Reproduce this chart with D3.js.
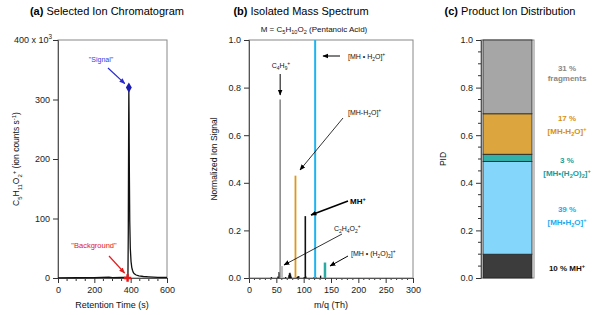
<!DOCTYPE html>
<html>
<head>
<meta charset="utf-8">
<script src="https://cdn.jsdelivr.net/npm/d3@7"></script>
<style>
  body { margin: 0; background: #fff; }
  svg { font-family: "Liberation Sans", Arial, sans-serif; }
</style>
</head>
<body>
<svg id="chart" width="600" height="315"></svg>
<script>
// ---- (a) chromatogram data ----
const chromTime = [0, 100, 200, 280, 300, 350, 380, 385, 387, 389, 390, 391, 393, 395, 398, 402, 406, 410, 415, 420, 430, 445, 470, 500, 550, 600];
const chromSignal = [0.3, 0.4, 0.5, 1.5, 0.6, 0.8, 1, 3, 80, 260, 320, 280, 170, 95, 50, 28, 18, 13, 9, 7, 5, 3.5, 2.5, 2, 1.2, 1];
const signalPoint = [390, 320];
const backgroundPoint = [383, 0];

// ---- (b) mass spectrum data ----
const peakMz = [57, 60, 85, 103, 121, 139];
const peakHeight = [0.75, 0.05, 0.43, 0.26, 1.0, 0.065];
const peakGroup = ['fragment', 'fragment2', 'dehydrated', 'mh', 'hydrate', 'dihydrate'];
const minorMz = [41, 53, 55, 56, 58, 67, 73, 74, 75, 76, 77, 86, 89, 91, 101, 104, 119, 122, 131];
const minorHeight = [0.004, 0.006, 0.025, 0.02, 0.008, 0.004, 0.012, 0.02, 0.022, 0.015, 0.006, 0.004, 0.006, 0.008, 0.004, 0.006, 0.003, 0.004, 0.01];

// ---- (c) product ion distribution ----
const pidIons = ['MH+', 'MH•H2O+', 'MH•(H2O)2+', 'MH-H2O+', 'fragments'];
const pidValues = [0.10, 0.39, 0.03, 0.17, 0.31];

const colors = {
  fragment: '#8c8c8c', fragment2: '#bdbdbd', dehydrated: '#e0961a', mh: '#111',
  hydrate: '#1eb4f0', dihydrate: '#2aaaa0'
};
const pidFill = ['#3c3c3c', '#84d6fa', '#33b2aa', '#dca53e', '#a6a6a6'];

const svg = d3.select('#chart');
const top0 = 40, bottom0 = 278;

// arrow markers
const defs = svg.append('defs');
function marker(id, color, size) {
  defs.append('marker').attr('id', id).attr('viewBox', '0 0 10 10')
    .attr('refX', 9).attr('refY', 5).attr('markerWidth', size).attr('markerHeight', size)
    .attr('orient', 'auto-start-reverse').attr('markerUnits', 'userSpaceOnUse')
    .append('path').attr('d', 'M0,1 L10,5 L0,9 z').attr('fill', color);
}
marker('arrBlack', '#000', 6);
marker('arrBlue', '#2a2ad0', 6);
marker('arrRed', '#e02020', 6);

// simple rich text: _{..} subscript, ^{..} superscript
function rich(sel, str, size) {
  const re = /([_^])\{([^}]*)\}|([^_^]+)/g;
  let m, shift = 0;
  while ((m = re.exec(str)) !== null) {
    if (m[3]) {
      sel.append('tspan').attr('dy', -shift).text(m[3]);
      shift = 0;
    } else {
      const s = m[1] === '_' ? size * 0.3 : -size * 0.4;
      sel.append('tspan').attr('dy', s - shift).style('font-size', (size * 0.7) + 'px').text(m[2]);
      shift = s;
    }
  }
  return sel;
}
function label(x, y, str, size, color, anchor, weight, rotate) {
  const t = svg.append('text').attr('x', x).attr('y', y)
    .attr('text-anchor', anchor || 'middle')
    .style('font-size', size + 'px').attr('fill', color || '#000')
    .style('font-weight', weight || 'normal');
  if (rotate) t.attr('transform', `rotate(-90,${x},${y})`);
  return rich(t, str, size);
}
function arrow(x1, y1, x2, y2, color, mk, w) {
  svg.append('line').attr('x1', x1).attr('y1', y1).attr('x2', x2).attr('y2', y2)
    .attr('stroke', color).attr('stroke-width', w || 1).attr('marker-end', `url(#${mk})`);
}
function title(x, y, tag, text) {
  const t = svg.append('text').attr('x', x).attr('y', y).attr('text-anchor', 'middle')
    .style('font-size', '11px');
  t.append('tspan').style('font-weight', 'bold').text(tag + ' ');
  t.append('tspan').text(text);
}
function styleAxis(g) {
  g.selectAll('.domain').attr('stroke', '#555');
  g.selectAll('.tick line').attr('stroke', '#333');
  g.selectAll('.tick text').style('font-size', '9px').attr('fill', '#222')
    .style('font-family', '"Liberation Sans", Arial, sans-serif');
}
function minorTicks(scale, values, orient, pos, len) {
  const g = svg.append('g');
  values.forEach(v => {
    if (orient === 'bottom') g.append('line').attr('x1', scale(v)).attr('x2', scale(v))
      .attr('y1', pos).attr('y2', pos + len).attr('stroke', '#333');
    else g.append('line').attr('y1', scale(v)).attr('y2', scale(v))
      .attr('x1', pos).attr('x2', pos - len).attr('stroke', '#333');
  });
}

// ================= (a) =================
{
  const x = d3.scaleLinear().domain([0, 600]).range([58, 167]);
  const y = d3.scaleLinear().domain([0, 400]).range([bottom0, top0]);
  svg.append('rect').attr('x', 58).attr('y', top0).attr('width', 109).attr('height', bottom0 - top0)
    .attr('fill', 'none').attr('stroke', '#888');
  minorTicks(x, d3.range(50, 600, 50).filter(v => v % 200), 'bottom', bottom0, 3);
  const xa = svg.append('g').attr('transform', `translate(0,${bottom0})`)
    .call(d3.axisBottom(x).tickValues([0, 200, 400, 600]).tickSize(5).tickPadding(4));
  styleAxis(xa);
  const ya = svg.append('g').attr('transform', 'translate(58,0)')
    .call(d3.axisLeft(y).tickValues([0, 100, 200, 300, 400]).tickSize(5).tickPadding(3));
  styleAxis(ya);
  // top tick carries the exponent
  ya.selectAll('.tick text').filter(d => d === 400).remove();
  label(52, y(400) + 3, '400 x 10^{3}', 9, '#222', 'end');

  const line = d3.line().x((d, i) => x(chromTime[i])).y(d => y(d));
  svg.append('path').datum(chromSignal).attr('d', line).attr('fill', 'none')
    .attr('stroke', '#111').attr('stroke-width', 1.3);

  svg.append('path').attr('d', d3.symbol(d3.symbolDiamond, 30)())
    .attr('transform', `translate(${x(signalPoint[0])},${y(signalPoint[1])})`).attr('fill', '#1c1cb0');
  svg.append('path').attr('d', d3.symbol(d3.symbolCross, 30)())
    .attr('transform', `translate(${x(backgroundPoint[0])},${y(backgroundPoint[1])})`).attr('fill', '#e81818');

  label(101, 62, '"Signal"', 7, '#3a3ae0');
  arrow(108, 68, x(signalPoint[0]) - 4, y(signalPoint[1]) - 4, '#2a2ad0', 'arrBlue', 1.2);
  label(94, 248, '"Background"', 7.5, '#e02020');
  arrow(109, 256, x(backgroundPoint[0]) - 3, y(backgroundPoint[1]) - 5, '#e02020', 'arrRed', 1.2);

  title(107, 15, '(a)', 'Selected Ion Chromatogram');
  label(112, 308, 'Retention Time (s)', 9, '#111');
  label(19, 159, 'C_{5}H_{11}O_{2}^{+} (ion counts s^{-1})', 8.5, '#111', 'middle', 'normal', true);
}

// ================= (b) =================
{
  const x = d3.scaleLinear().domain([0, 300]).range([249, 413]);
  const y = d3.scaleLinear().domain([0, 1]).range([bottom0, top0]);
  svg.append('rect').attr('x', 249).attr('y', top0).attr('width', 164).attr('height', bottom0 - top0)
    .attr('fill', 'none').attr('stroke', '#888');
  minorTicks(x, d3.range(10, 300, 10).filter(v => v % 50), 'bottom', bottom0, 2);
  const xa = svg.append('g').attr('transform', `translate(0,${bottom0})`)
    .call(d3.axisBottom(x).tickValues(d3.range(0, 301, 50)).tickSize(5).tickPadding(4));
  styleAxis(xa);
  const ya = svg.append('g').attr('transform', 'translate(249,0)')
    .call(d3.axisLeft(y).tickValues(d3.range(0, 1.01, 0.2)).tickFormat(d3.format('.1f')).tickSize(5).tickPadding(3));
  styleAxis(ya);

  svg.append('g').selectAll('line').data(minorMz).join('line')
    .attr('x1', d => x(d)).attr('x2', d => x(d))
    .attr('y1', y(0)).attr('y2', (d, i) => y(minorHeight[i]))
    .attr('stroke', '#111').attr('stroke-width', 1.3);
  const widths = { fragment: 1.6, fragment2: 2.5, dehydrated: 1.8, mh: 1.6, hydrate: 2, dihydrate: 2.5 };
  svg.append('g').selectAll('line').data(peakMz).join('line')
    .attr('x1', d => x(d)).attr('x2', d => x(d))
    .attr('y1', y(0)).attr('y2', (d, i) => y(peakHeight[i]))
    .attr('stroke', (d, i) => colors[peakGroup[i]])
    .attr('stroke-width', (d, i) => widths[peakGroup[i]]);

  label(281, 68, 'C_{4}H_{9}^{+}', 7, '#111');
  arrow(x(57), 74, x(57), 95, '#000', 'arrBlack', 1);
  label(348, 59, '[MH • H_{2}O]^{+}', 7, '#111', 'start');
  arrow(340, 56, 323, 56, '#000', 'arrBlack', 1);
  label(348, 115, '[MH-H_{2}O]^{+}', 7, '#111', 'start');
  arrow(343, 118, 300, 170, '#000', 'arrBlack', 0.8);
  label(350, 204, 'MH^{+}', 8, '#000', 'start', 'bold');
  arrow(348, 201, 311, 215, '#000', 'arrBlack', 1.6);
  label(334, 231, 'C_{2}H_{4}O_{2}^{+}', 7, '#111', 'start');
  arrow(342, 234, 284, 265, '#000', 'arrBlack', 0.8);
  label(351, 256, '[MH • (H_{2}O)_{2}]^{+}', 7, '#111', 'start');
  arrow(348, 256, 330, 266, '#000', 'arrBlack', 1);

  title(301, 15, '(b)', 'Isolated Mass Spectrum');
  label(314, 32, 'M = C_{5}H_{10}O_{2} (Pentanoic Acid)', 8, '#111');
  label(331, 308, 'm/q (Th)', 9, '#111');
  label(217, 159, 'Normalized Ion Signal', 8.5, '#111', 'middle', 'normal', true);
}

// ================= (c) =================
{
  const y = d3.scaleLinear().domain([0, 1]).range([bottom0, top0]);
  svg.append('rect').attr('x', 481).attr('y', top0).attr('width', 53).attr('height', bottom0 - top0)
    .attr('fill', 'none').attr('stroke', '#888');
  minorTicks(y, d3.range(0.05, 1, 0.05).filter(v => Math.round(v * 100) % 20), 'left', 481, 3);
  const ya = svg.append('g').attr('transform', 'translate(481,0)')
    .call(d3.axisLeft(y).tickValues(d3.range(0, 1.01, 0.2)).tickFormat(d3.format('.1f')).tickSize(5).tickPadding(3));
  styleAxis(ya);

  const stack = d3.cumsum(pidValues);
  svg.append('g').selectAll('rect').data(pidValues).join('rect')
    .attr('x', 483).attr('width', 49)
    .attr('y', (d, i) => y(stack[i]))
    .attr('height', d => y(0) - y(d))
    .attr('fill', (d, i) => pidFill[i])
    .attr('stroke', '#222').attr('stroke-width', 0.8);

  const pct = d => Math.round(d * 100) + ' %';
  label(567, 271, pct(pidValues[0]) + ' MH^{+}', 8, '#111', 'middle', 'bold');
  label(567, 212, pct(pidValues[1]), 8, '#22aaf0', 'middle', 'bold');
  label(567, 225, '[MH•H_{2}O]^{+}', 8, '#22aaf0', 'middle', 'bold');
  label(567, 163, pct(pidValues[2]), 8, '#1c9c94', 'middle', 'bold');
  label(567, 176, '[MH•(H_{2}O)_{2}]^{+}', 8, '#1c9c94', 'middle', 'bold');
  label(567, 121, pct(pidValues[3]), 8, '#d8900c', 'middle', 'bold');
  label(567, 134, '[MH-H_{2}O]^{+}', 8, '#d8900c', 'middle', 'bold');
  label(567, 71, pct(pidValues[4]), 8, '#888', 'middle', 'bold');
  label(567, 81, pidIons[4], 8, '#888', 'middle', 'bold');

  title(510, 15, '(c)', 'Product Ion Distribution');
  label(446, 159, 'PID', 8.5, '#111', 'middle', 'normal', true);
}
</script>
</body>
</html>
